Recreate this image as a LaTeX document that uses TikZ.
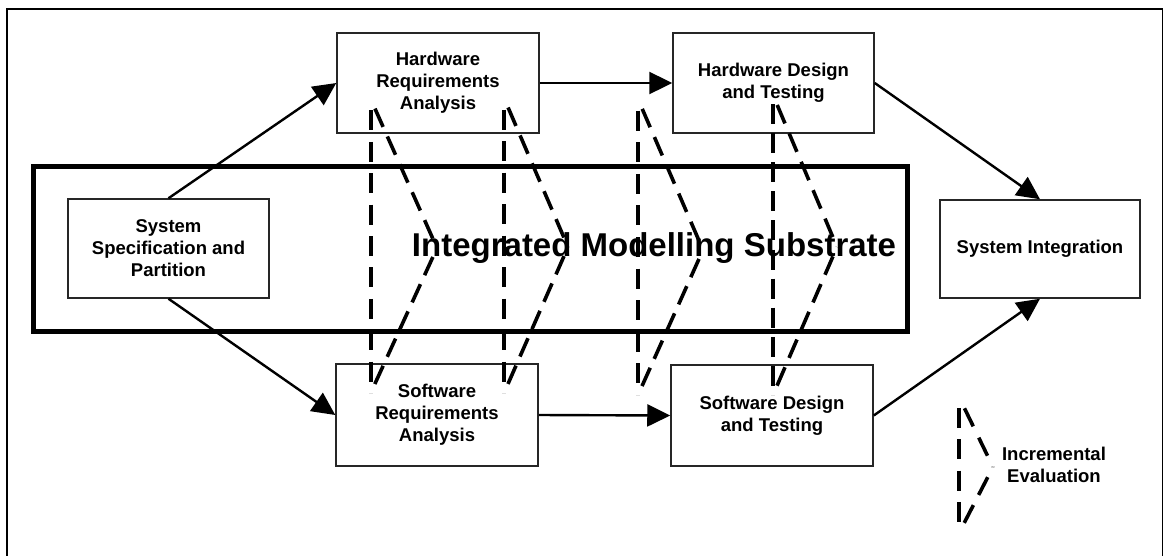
\documentclass[tikz,border=0pt]{standalone}
\usepackage{fontspec}
\setmainfont{Liberation Sans}
\usetikzlibrary{arrows.meta,decorations}

\begin{document}
\begin{tikzpicture}[x=1pt,y=-1pt,
  box/.style={draw=black!85, line width=1.5pt, align=center, inner sep=0pt,
    font=\bfseries\fontsize{18.5}{22}\selectfont},
  flow/.style={line width=2.4pt, -{Triangle[length=23pt,width=22pt]}},
  evalline/.style={line width=3.6pt, dash pattern=on 20pt off 9pt, dash expand off,
    line cap=butt, line join=miter},
  bigtext/.style={font=\bfseries\fontsize{33}{38}\selectfont, inner sep=0pt}
]
\useasboundingbox (0,0) rectangle (1165,555);

% outer frame (runs off the bottom of the page)
\draw[line width=1.8pt] (7,570) -- (7,9) -- (1162.5,9) -- (1162.5,570);

% modelling substrate
\node[draw, line width=5pt, minimum width=874pt, minimum height=165pt] (sub) at (470,248.5) {};
\node[bigtext] (subtext) at (654,248) {Integrated Modelling Substrate};

% process boxes
\node[box, minimum width=202pt, minimum height=100pt] (hwreq) at (438,83) {Hardware\\Requirements\\Analysis};
\node[box, minimum width=201pt, minimum height=100pt] (hwdes) at (773.5,83) {Hardware Design\\and Testing};
\node[box, minimum width=201pt, minimum height=99pt] (spec) at (168.5,248.5) {System\\Specification and\\Partition};
\node[box, minimum width=200pt, minimum height=98pt] (sysint) at (1040,249) {System Integration};
\node[box, minimum width=202pt, minimum height=102pt] (swreq) at (437,415) {Software\\Requirements\\Analysis};
\node[box, minimum width=202pt, minimum height=101pt] (swdes) at (772,415.5) {Software Design\\and Testing};

% flow between stages
\draw[flow] (spec.north) -- (hwreq.west);
\draw[flow] (spec.south) -- (swreq.west);
\draw[flow] (hwreq.east) -- (hwdes.west);
\draw[flow] (swreq.east) -- (swdes.west);
\draw[flow] (hwdes.east) -- (sysint.north);
\draw[flow] (swdes.east) -- (sysint.south);

% incremental evaluation loops
\foreach \n/\vx/\ty/\by/\ax/\ay in {1/370.7/99/393/437/248, 2/504/98/393/568/247,
    3/638/99/395/703/250, 4/773/95/395/837/247, 5/959/397/533/993/467}{
  \coordinate (ev\n top) at (\vx,\ty);
  \coordinate (ev\n bot) at (\vx,\by);
  \coordinate (ev\n tip) at (\ax,\ay);
  \draw[evalline] (ev\n top) -- (ev\n bot);
  \draw[evalline] (ev\n top) -- (ev\n tip);
  \draw[evalline] (ev\n bot) -- (ev\n tip);
}

% legend
\node[font=\bfseries\fontsize{18.5}{22}\selectfont, align=center, inner sep=0pt] (legend) at (1054,465) {Incremental\\Evaluation};
\end{tikzpicture}
\end{document}
